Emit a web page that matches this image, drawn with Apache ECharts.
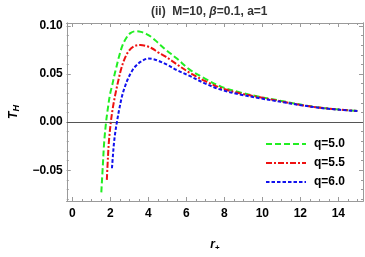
<!DOCTYPE html>
<html>
<head>
<meta charset="utf-8">
<script src="https://cdn.jsdelivr.net/npm/echarts@6/dist/echarts.min.js"></script>
<style>
html,body{margin:0;padding:0;background:#fff;}
#c{width:365px;height:257px;}
</style>
</head>
<body>
<div id="c"></div>
<script>
// ---- data ----
const seriesNames = ['q=5.0', 'q=5.5', 'q=6.0'];

const rQ50 = [1.52,1.6,1.67,1.77,1.87,1.97,2.1,2.2,2.3,2.45,2.64,2.85,3.05,3.32,3.6,3.9,4.2,4.5,4.9,5.5,6.17,7.0,7.85,8.8,9.87,11,12.2,13.5,15];
const tQ50 = [-0.073,-0.045,-0.021,0,0.015,0.028,0.039,0.048,0.056,0.068,0.080,0.088,0.0925,0.0944,0.0938,0.0915,0.0878,0.0825,0.0755,0.066,0.0546,0.045,0.0366,0.031,0.0262,0.022,0.0175,0.014,0.0115];

const rQ55 = [1.81,1.87,1.92,2.02,2.12,2.2,2.28,2.39,2.56,2.75,2.98,3.25,3.57,3.9,4.2,4.49,4.91,5.5,6.17,7.0,7.85,8.8,9.87,11,12.2,13.5,15];
const tQ55 = [-0.060,-0.036,-0.020,0,0.014,0.023,0.031,0.041,0.055,0.066,0.0742,0.0788,0.0801,0.079,0.0765,0.0728,0.068,0.060,0.0513,0.0425,0.0352,0.030,0.0258,0.0215,0.0172,0.014,0.0115];

const rQ60 = [2.08,2.13,2.19,2.26,2.34,2.45,2.61,2.75,2.9,3.1,3.32,3.6,3.99,4.25,4.49,5.0,5.5,6.17,7.0,7.85,8.8,9.87,11,12.2,13.5,15];
const tQ60 = [-0.048,-0.035,-0.021,-0.010,0,0.012,0.027,0.036,0.044,0.052,0.058,0.0628,0.066,0.0655,0.064,0.0595,0.054,0.048,0.040,0.0335,0.0288,0.0248,0.021,0.017,0.0138,0.0115];

const xMajorTicks = [0,2,4,6,8,10,12,14];
const xMinorTicks = [0,0.5,1,1.5,2,2.5,3,3.5,4,4.5,5,5.5,6,6.5,7,7.5,8,8.5,9,9.5,10,10.5,11,11.5,12,12.5,13,13.5,14,14.5,15];
const yMajorTicks = [-0.05,0,0.05,0.10];
const yMinorTicks = [-0.08,-0.07,-0.06,-0.05,-0.04,-0.03,-0.02,-0.01,0,0.01,0.02,0.03,0.04,0.05,0.06,0.07,0.08,0.09,0.10];

// ---- chart ----
const FONT = '"Liberation Sans", Arial, sans-serif';
const frameColor = '#9a9a9a';
const zip = (a, b) => a.map((v, i) => [v, b[i]]);

function xAx(pos, ticks, len, labels) {
  return {
    type: 'value', position: pos, min: -0.3, max: 15.3,
    axisLine: { show: true, onZero: false, lineStyle: { color: frameColor, width: 1 } },
    axisTick: { show: true, inside: true, length: len, customValues: ticks, lineStyle: { color: frameColor } },
    axisLabel: labels ? {
      show: true, customValues: ticks, margin: 7, color: '#000',
      fontFamily: FONT, fontWeight: 'bold', fontSize: 12,
      formatter: v => String(v)
    } : { show: false },
    splitLine: { show: false }
  };
}
function yAx(pos, ticks, len, labels) {
  return {
    type: 'value', position: pos, min: -0.082, max: 0.103,
    axisLine: { show: true, onZero: false, lineStyle: { color: frameColor, width: 1 } },
    axisTick: { show: true, inside: true, length: len, customValues: ticks, lineStyle: { color: frameColor } },
    axisLabel: labels ? {
      show: true, customValues: ticks, margin: 4, color: '#000',
      fontFamily: FONT, fontWeight: 'bold', fontSize: 12,
      formatter: v => v.toFixed(2).replace('-', '\u2212')
    } : { show: false },
    splitLine: { show: false }
  };
}

const xAxes = [xAx('bottom', xMajorTicks, 4, true), xAx('bottom', xMinorTicks, 2, false),
               xAx('top', xMajorTicks, 4, false), xAx('top', xMinorTicks, 2, false)];
xAxes[0].name = '{i|r}{s|+}';
xAxes[0].nameLocation = 'middle';
xAxes[0].nameGap = 37;
xAxes[0].nameTextStyle = { rich: {
  i: { fontFamily: FONT, fontStyle: 'italic', fontWeight: 'bold', fontSize: 12, color: '#000' },
  s: { fontFamily: FONT, fontWeight: 'bold', fontSize: 8, color: '#000', verticalAlign: 'bottom', padding: [6,0,0,0] }
}};

const yAxes = [yAx('left', yMajorTicks, 4, true), yAx('left', yMinorTicks, 2, false),
               yAx('right', yMajorTicks, 4, false), yAx('right', yMinorTicks, 2, false)];
yAxes[0].name = '{i|T}{s|H}';
yAxes[0].nameLocation = 'middle';
yAxes[0].nameRotate = 90;
yAxes[0].nameGap = 43;
yAxes[0].nameTextStyle = { rich: {
  i: { fontFamily: FONT, fontStyle: 'italic', fontWeight: 'bold', fontSize: 12, color: '#000' },
  s: { fontFamily: FONT, fontStyle: 'italic', fontWeight: 'bold', fontSize: 9, color: '#000', verticalAlign: 'bottom', padding: [6,0,0,0] }
}};

const colors = ['#22ee22', '#ee1111', '#1111ee'];
const dashes = [[6, 3], [6, 2, 2, 2], [3.5, 2]];
const rs = [rQ50, rQ55, rQ60];
const ts = [tQ50, tQ55, tQ60];

const series = seriesNames.map((n, i) => ({
  name: n, type: 'line', smooth: 0.35, showSymbol: false, symbol: 'none',
  xAxisIndex: 0, yAxisIndex: 0, z: 3 + i,
  data: zip(rs[i], ts[i]),
  lineStyle: { color: colors[i], width: 2, type: dashes[i] },
  itemStyle: { color: colors[i] }
}));
series[0].markLine = {
  silent: true, symbol: 'none', label: { show: false },
  lineStyle: { color: '#555', width: 1, type: 'solid' },
  data: [{ yAxis: 0 }], animation: false
};

const chart = echarts.init(document.getElementById('c'), null, { renderer: 'canvas' });
chart.setOption({
  animation: false,
  backgroundColor: '#fff',
  title: {
    text: '(ii)  M=10, {b|\u03b2}=0.1, a=1',
    left: 146, top: 1,
    textStyle: {
      fontFamily: FONT, fontWeight: 'bold', fontSize: 12, color: '#333',
      rich: { b: { fontFamily: FONT, fontStyle: 'italic', fontWeight: 'bold', fontSize: 12, color: '#333' } }
    }
  },
  grid: { left: 54, right: 2, top: 23, bottom: 44, containLabel: false },
  legend: {
    orient: 'vertical', left: 260, top: 133,
    itemWidth: 40, itemHeight: 12, itemGap: 7,
    data: seriesNames,
    itemStyle: { opacity: 0, borderWidth: 0 },
    textStyle: { fontFamily: FONT, fontWeight: 'bold', fontSize: 12, color: '#000', padding: [0,0,0,3] }
  },
  xAxis: xAxes,
  yAxis: yAxes,
  series: series
});
</script>
</body>
</html>
